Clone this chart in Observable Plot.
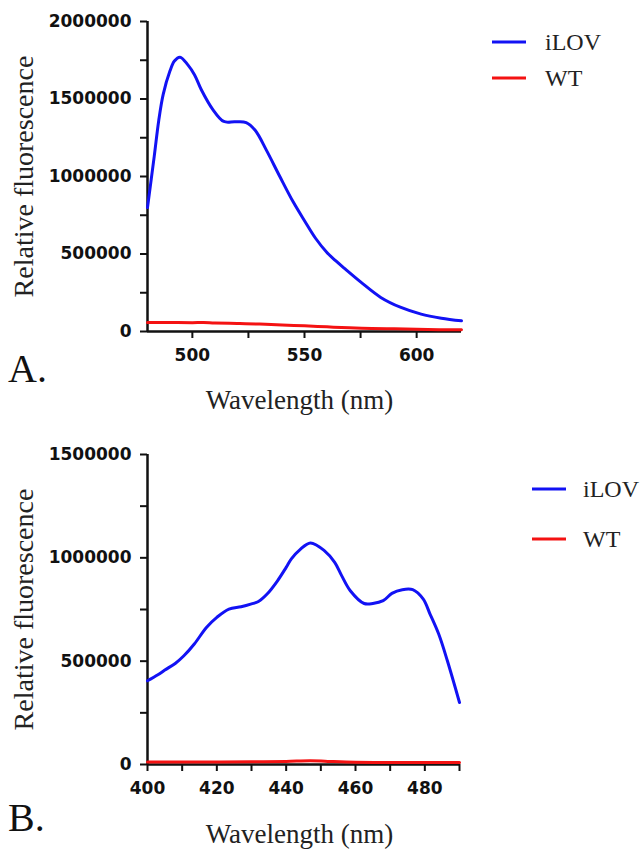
<!DOCTYPE html>
<html>
<head>
<meta charset="utf-8">
<script src="https://cdn.jsdelivr.net/npm/d3@7"></script>
<script src="https://cdn.jsdelivr.net/npm/@observablehq/plot@0.6"></script>
<style>
  html, body { margin: 0; padding: 0; background: #fff; }
  #root { position: relative; width: 640px; height: 850px; overflow: hidden; }
  .panel { position: absolute; left: 0; }
  #overlay { position: absolute; left: 0; top: 0; pointer-events: none; }
</style>
</head>
<body>
<div id="root"></div>
<script>
// ---------- Data ----------
// Panel A: emission spectrum
const wavelengthA = [480, 483, 485, 487, 490, 492, 494.5, 498, 501, 504, 509, 514, 519, 524, 528, 533, 539, 545, 550, 555, 560, 564, 568, 575, 584, 593, 602, 611, 620];
const iLOV_A = [800000, 1130000, 1360000, 1530000, 1680000, 1745000, 1770000, 1720000, 1655000, 1560000, 1435000, 1355000, 1353000, 1348000, 1298000, 1170000, 1000000, 835000, 715000, 600000, 510000, 455000, 405000, 320000, 220000, 155000, 112000, 86000, 69000];
const wtWavelengthA = [480, 490, 500, 505, 510, 520, 530, 540, 550, 560, 570, 580, 590, 600, 610, 620];
const WT_A = [58000, 58000, 57000, 58000, 55000, 52000, 48000, 42000, 37000, 30000, 24000, 20000, 17000, 14000, 12000, 11000];

// Panel B: excitation spectrum
const wavelengthB = [400, 403, 405, 408, 410.5, 413.5, 417, 420, 423.5, 427, 430, 432, 434.5, 437.5, 440, 441.5, 444, 447, 451, 454, 456, 458.5, 462.5, 465, 468, 470.5, 473.5, 476.5, 479.5, 481.5, 484, 486.5, 490];
const iLOV_B = [405000, 434000, 457000, 489000, 526000, 583000, 663000, 712000, 752000, 763000, 777000, 789000, 825000, 889000, 954000, 995000, 1040000, 1072000, 1035000, 978000, 914000, 841000, 779000, 779000, 793000, 828000, 846000, 846000, 801000, 728000, 631000, 502000, 300000];
const wtWavelengthB = [400, 410, 420, 430, 440, 447, 452, 460, 470, 480, 490];
const WT_B = [12000, 12000, 12000, 13000, 15000, 18000, 15000, 11000, 10000, 10000, 10000];

// Ticks
const yMajorA = [0, 500000, 1000000, 1500000, 2000000];
const yMinorA = [250000, 750000, 1250000, 1750000];
const xMajorA = [500, 550, 600];
const xMinorA = [525, 575];
const yMajorB = [0, 500000, 1000000, 1500000];
const yMinorB = [250000, 750000, 1250000];
const xMajorB = [400, 420, 440, 460, 480];
const xMinorB = [410, 430, 450, 470, 490];

const seriesNames = ["iLOV", "WT"];
const seriesColors = ["#1212f4", "#f41212"];
const yTitle = "Relative fluorescence";
const xTitle = "Wavelength (nm)";
const panelLabels = ["A.", "B."];

// ---------- Helpers ----------
const tickFont = "'DejaVu Sans', sans-serif";
const titleFont = "'Liberation Serif', 'Times New Roman', serif";

function toRows(xs, ys) { return xs.map((x, i) => ({x, y: ys[i]})); }

function panel({xDomain, yDomain, yMajor, yMinor, xMajor, xMinor, blue, red, height, marginTop, marginBottom, marginRight, xTitleDx, xTitleDy}) {
  const tickOpts = {tickSize: 7, strokeWidth: 2, fontSize: 17, fontWeight: "bold", fontFamily: tickFont, fill: "#111", label: null};
  return Plot.plot({
    width: 640,
    height,
    marginLeft: 147,
    marginRight,
    marginTop,
    marginBottom,
    style: {background: "transparent", overflow: "visible", color: "#111"},
    x: {domain: xDomain},
    y: {domain: yDomain},
    marks: [
      Plot.axisY(yMajor, {...tickOpts, tickPadding: 9, tickFormat: d => String(d)}),
      Plot.axisY(yMinor, {...tickOpts, tickFormat: null, text: null}),
      Plot.axisX(xMajor, {...tickOpts, tickPadding: 10, tickFormat: d => String(d)}),
      Plot.axisX(xMinor, {...tickOpts, tickFormat: null, text: null}),
      Plot.ruleX([xDomain[0]], {stroke: "#111", strokeWidth: 2.5}),
      Plot.ruleY([0], {stroke: "#111", strokeWidth: 2.5}),
      Plot.line(red, {x: "x", y: "y", stroke: seriesColors[1], strokeWidth: 3, curve: "catmull-rom"}),
      Plot.line(blue, {x: "x", y: "y", stroke: seriesColors[0], strokeWidth: 3, curve: "catmull-rom"}),
      Plot.text([yTitle], {frameAnchor: "left", textAnchor: "middle", dx: -123, rotate: -90, fontSize: 28, fontFamily: titleFont, fill: "#222", lineAnchor: "middle"}),
      Plot.text([xTitle], {frameAnchor: "bottom", textAnchor: "middle", dx: xTitleDx, dy: xTitleDy, fontSize: 27, fontFamily: titleFont, fill: "#222", lineAnchor: "bottom"})
    ]
  });
}

const root = document.getElementById("root");

const plotA = panel({
  xDomain: [480, 620], yDomain: [0, 2000000],
  yMajor: yMajorA, yMinor: yMinorA, xMajor: xMajorA, xMinor: xMinorA,
  blue: toRows(wavelengthA, iLOV_A), red: toRows(wtWavelengthA, WT_A),
  height: 420, marginTop: 21, marginBottom: 89, marginRight: 179,
  xTitleDx: -5, xTitleDy: 77
});
plotA.classList.add("panel");
plotA.style.top = "0px";
root.appendChild(plotA);

const plotB = panel({
  xDomain: [400, 490], yDomain: [0, 1500000],
  yMajor: yMajorB, yMinor: yMinorB, xMajor: xMajorB, xMinor: xMinorB,
  blue: toRows(wavelengthB, iLOV_B), red: toRows(wtWavelengthB, WT_B),
  height: 430, marginTop: 34, marginBottom: 86, marginRight: 181,
  xTitleDx: -4, xTitleDy: 78
});
plotB.classList.add("panel");
plotB.style.top = "420px";
root.appendChild(plotB);

// ---------- Legends and panel letters (overlay) ----------
const ns = "http://www.w3.org/2000/svg";
const ov = document.createElementNS(ns, "svg");
ov.setAttribute("id", "overlay");
ov.setAttribute("width", 640);
ov.setAttribute("height", 850);
root.appendChild(ov);

function addEl(tag, attrs, text) {
  const el = document.createElementNS(ns, tag);
  for (const k in attrs) el.setAttribute(k, attrs[k]);
  if (text != null) el.textContent = text;
  ov.appendChild(el);
  return el;
}

const legendSpecs = [
  {x0: 492, x1: 526, tx: 545, ys: [42, 78]},
  {x0: 532, x1: 566, tx: 583, ys: [489, 539]}
];
for (const spec of legendSpecs) {
  seriesNames.forEach((name, i) => {
    addEl("line", {x1: spec.x0, x2: spec.x1, y1: spec.ys[i], y2: spec.ys[i], stroke: seriesColors[i], "stroke-width": 3});
    addEl("text", {x: spec.tx, y: spec.ys[i] + 8, "font-family": titleFont, "font-size": 24, fill: "#222"}, name);
  });
}

addEl("text", {x: 8, y: 382, "font-family": titleFont, "font-size": 40, fill: "#111"}, panelLabels[0]);
addEl("text", {x: 8, y: 831, "font-family": titleFont, "font-size": 40, fill: "#111"}, panelLabels[1]);
</script>
</body>
</html>
